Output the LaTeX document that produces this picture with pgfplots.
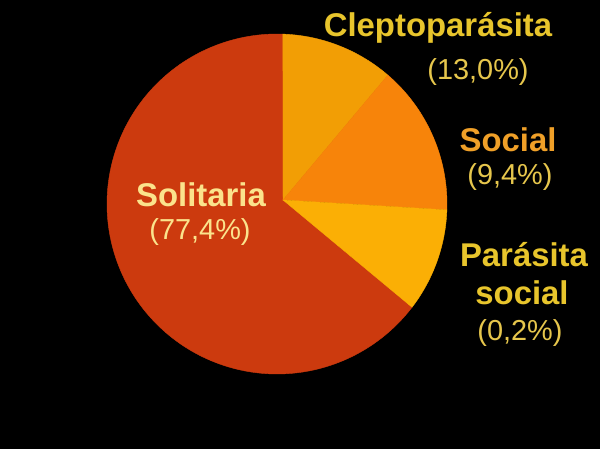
\documentclass[border=0pt]{standalone}
\usepackage{pgfplots}
\pgfplotsset{compat=1.18}
\usepackage{fontspec}
\setmainfont{Liberation Sans}
\definecolor{csol}{HTML}{CC3A0E}
\definecolor{ccle}{HTML}{F29E05}
\definecolor{csoc}{HTML}{F7840A}
\definecolor{cpar}{HTML}{FBAF05}
\definecolor{tyel}{HTML}{E8C52C}
\definecolor{tyel2}{HTML}{E6C64C}
\definecolor{tora}{HTML}{F0A028}
\definecolor{tsol}{HTML}{FBE38C}
\begin{document}
\begin{tikzpicture}
\fill[black] (0,0) rectangle (600bp,449bp);
\begin{axis}[
  at={(0,0)}, anchor=south west,
  scale only axis, width=600bp, height=449bp,
  xmin=0, xmax=600, ymin=0, ymax=449,
  hide axis, clip=false,
  /pgf/number format/assume math mode=true,
]
% slices: centre (277,245), radius 170, vertex (283,249); angles in degrees
\addplot[fill=csol, draw=csol, line width=0.4pt, domain=88:322.6, samples=160]
  ({277+170*cos(x)},{245+170*sin(x)}) -- (axis cs:283,249) -- cycle;
\addplot[fill=ccle, draw=ccle, line width=0.4pt, domain=49.3:88, samples=40]
  ({277+170*cos(x)},{245+170*sin(x)}) -- (axis cs:283,249) -- cycle;
\addplot[fill=csoc, draw=csoc, line width=0.4pt, domain=-2:49.3, samples=50]
  ({277+170*cos(x)},{245+170*sin(x)}) -- (axis cs:283,249) -- cycle;
\addplot[fill=cpar, draw=cpar, line width=0.4pt, domain=-37.4:-2, samples=40]
  ({277+170*cos(x)},{245+170*sin(x)}) -- (axis cs:283,249) -- cycle;

% labels
\node[anchor=base, text=tyel, font=\fontsize{33}{36}\selectfont\bfseries, inner sep=0pt] at (axis cs:438,412) {Cleptoparásita};
\node[anchor=base, text=tyel2, font=\fontsize{29}{32}\selectfont, inner sep=0pt] at (axis cs:478,369) {(13,0\%)};
\node[anchor=base, text=tora, font=\fontsize{33}{36}\selectfont\bfseries, inner sep=0pt] at (axis cs:508,297) {Social};
\node[anchor=base, text=tyel2, font=\fontsize{29}{32}\selectfont, inner sep=0pt] at (axis cs:510,264) {(9,4\%)};
\node[anchor=base, text=tyel, font=\fontsize{33}{36}\selectfont\bfseries, inner sep=0pt] at (axis cs:524,182) {Parásita};
\node[anchor=base, text=tyel, font=\fontsize{33}{36}\selectfont\bfseries, inner sep=0pt] at (axis cs:522,144) {social};
\node[anchor=base, text=tyel2, font=\fontsize{29}{32}\selectfont, inner sep=0pt] at (axis cs:520,108) {(0,2\%)};
\node[anchor=base, text=tsol, font=\fontsize{33}{36}\selectfont\bfseries, inner sep=0pt] at (axis cs:201,242) {Solitaria};
\node[anchor=base, text=tsol, font=\fontsize{29}{32}\selectfont, inner sep=0pt] at (axis cs:200,209) {(77,4\%)};
\end{axis}
\end{tikzpicture}
\end{document}
